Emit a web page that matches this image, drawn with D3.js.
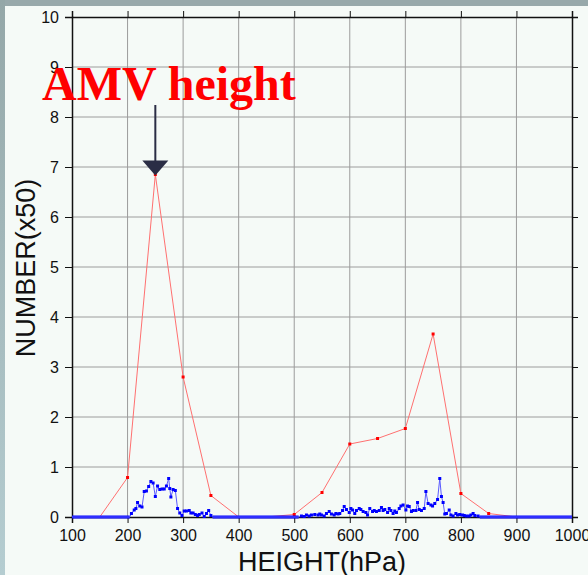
<!DOCTYPE html>
<html>
<head>
<meta charset="utf-8">
<script src="https://cdn.jsdelivr.net/npm/d3@7"></script>
<style>
  html, body { margin: 0; padding: 0; background: #f5faf7; }
  svg { display: block; }
</style>
</head>
<body>
<svg id="chart" width="588" height="575"></svg>
<script>
// red: coarse 50 hPa bins
const redHeights = [100, 150, 200, 250, 300, 350, 400, 450, 500, 550, 600, 650, 700, 750, 800, 850, 900, 950, 1000];
const redValues  = [0, 0, 0.79, 6.85, 2.8, 0.43, 0, 0, 0.05, 0.49, 1.46, 1.57, 1.77, 3.66, 0.47, 0.07, 0, 0, 0];

// blue: fine bins
const blueHeights = [100, 204, 207, 212, 215, 218, 222, 226, 230, 234, 238, 242, 246, 250, 254, 258, 262, 266, 270, 274, 276, 278, 282, 286, 290, 294, 298, 302, 306, 311, 314, 318, 322, 326, 329, 334, 338, 342, 346, 350, 353,
  508, 513, 518, 522, 527, 531, 537, 543, 546, 549, 554, 558, 563, 567, 572, 575, 579, 582, 587, 590, 594, 599, 602, 605, 609, 612, 617, 620, 624, 629, 632, 636, 641, 644, 648, 653, 657, 660, 663, 668, 671, 674, 678, 681, 684, 689, 692, 696, 701, 704, 707, 711, 714, 719, 722, 725, 729, 734, 737, 741, 746, 749, 753, 758, 762, 765, 768, 771, 774, 779, 782, 786, 791, 794, 798, 803, 806, 810, 815, 818, 822, 825, 831, 834, 1000];
const blueValues  = [0, 0, 0.07, 0.14, 0.17, 0.29, 0.22, 0.2, 0.51, 0.52, 0.61, 0.71, 0.68, 0.41, 0.62, 0.55, 0.56, 0.56, 0.62, 0.77, 0.57, 0.4, 0.55, 0.53, 0.17, 0.08, 0.03, 0.12, 0.12, 0.13, 0.08, 0.08, 0.05, 0.03, 0.05, 0.08, 0.01, 0.07, 0.13, 0.03, 0,
  0, 0.02, 0.01, 0.04, 0.02, 0.04, 0.05, 0.04, 0.06, 0.04, 0.02, 0.07, 0.11, 0.06, 0.04, 0.07, 0.06, 0.07, 0.13, 0.21, 0.15, 0.09, 0.17, 0.14, 0.07, 0.13, 0.17, 0.15, 0.11, 0.09, 0.04, 0.17, 0.11, 0.13, 0.11, 0.13, 0.19, 0.13, 0.15, 0.09, 0.17, 0.13, 0.07, 0.12, 0.09, 0.17, 0.22, 0.24, 0.14, 0.22, 0.21, 0.11, 0.13, 0.13, 0.29, 0.15, 0.13, 0.17, 0.51, 0.27, 0.24, 0.22, 0.27, 0.35, 0.77, 0.41, 0.29, 0.06, 0.07, 0.14, 0.04, 0.02, 0.07, 0.04, 0.05, 0.04, 0.03, 0.02, 0.02, 0.04, 0.07, 0.03, 0.02, 0, 0];

const xTicks = [100, 200, 300, 400, 500, 600, 700, 800, 900, 1000];
const yTicks = [0, 1, 2, 3, 4, 5, 6, 7, 8, 9, 10];

const svg = d3.select("#chart");
const plotL = 72, plotR = 572, plotT = 17, plotB = 517;

const x = d3.scaleLinear().domain([100, 1000]).range([plotL, plotR]);
const y = d3.scaleLinear().domain([0, 10]).range([plotB, plotT]);

// slide frame round the picture
svg.append("rect").attr("x", 0).attr("y", 0).attr("width", 588).attr("height", 6).attr("fill", "#98a9ab");
const grad = svg.append("defs").append("linearGradient")
    .attr("id", "edge").attr("x1", 0).attr("y1", 0).attr("x2", 0).attr("y2", 1);
grad.append("stop").attr("offset", "0%").attr("stop-color", "#94a7a8");
grad.append("stop").attr("offset", "100%").attr("stop-color", "#b5cdd1");
svg.append("rect").attr("x", 0).attr("y", 0).attr("width", 5).attr("height", 575).attr("fill", "url(#edge)");

// grid
const grid = svg.append("g").attr("stroke", "#9c9c9c").attr("stroke-width", 1);
grid.selectAll(".gx").data(xTicks.slice(1, -1)).join("line")
    .attr("x1", d => x(d)).attr("x2", d => x(d)).attr("y1", plotT).attr("y2", plotB);
grid.selectAll(".gy").data(yTicks.slice(1, -1)).join("line")
    .attr("y1", d => y(d)).attr("y2", d => y(d)).attr("x1", plotL).attr("x2", plotR);

// axes, ticks pointing outward on all four sides
const fmt = d3.format("d");
function styleAxis(g) {
  g.select(".domain").attr("stroke", "#111").attr("stroke-width", 1.5);
  g.selectAll(".tick line").attr("stroke", "#111").attr("stroke-width", 1);
  g.selectAll("text").attr("font-family", "Liberation Sans, Arial, sans-serif")
    .attr("font-size", 16).attr("fill", "#111");
}
svg.append("g").attr("transform", `translate(0,${plotB})`)
    .call(d3.axisBottom(x).tickValues(xTicks).tickFormat(fmt).tickSizeOuter(0).tickSize(6).tickPadding(7))
    .call(styleAxis);
svg.append("g").attr("transform", `translate(0,${plotT})`)
    .call(d3.axisTop(x).tickValues(xTicks).tickFormat("").tickSizeOuter(0).tickSize(6))
    .call(styleAxis);
svg.append("g").attr("transform", `translate(${plotL},0)`)
    .call(d3.axisLeft(y).tickValues(yTicks).tickFormat(fmt).tickSizeOuter(0).tickSize(7).tickPadding(6))
    .call(styleAxis);
svg.append("g").attr("transform", `translate(${plotR},0)`)
    .call(d3.axisRight(y).tickValues(yTicks).tickFormat("").tickSizeOuter(0).tickSize(6))
    .call(styleAxis);

// axis titles
svg.append("text")
    .attr("x", 322).attr("y", 571).attr("text-anchor", "middle")
    .attr("font-family", "Liberation Sans, Arial, sans-serif").attr("font-size", 27).attr("fill", "#111")
    .text("HEIGHT(hPa)");
svg.append("text")
    .attr("transform", "translate(35,268) rotate(-90)").attr("text-anchor", "middle")
    .attr("font-family", "Liberation Sans, Arial, sans-serif").attr("font-size", 27).attr("fill", "#111")
    .text("NUMBER(x50)");

// series
const red = redHeights.map((h, i) => [h, redValues[i]]);
const blue = blueHeights.map((h, i) => [h, blueValues[i]]);
const line = d3.line().x(d => x(d[0])).y(d => y(d[1]));

svg.append("path").datum(red).attr("d", line)
    .attr("fill", "none").attr("stroke", "#ff7070").attr("stroke-width", 1);
svg.append("g").selectAll("rect").data(red.filter(d => d[1] > 0)).join("rect")
    .attr("x", d => x(d[0]) - 1.5).attr("y", d => y(d[1]) - 1.5)
    .attr("width", 3).attr("height", 3).attr("fill", "#ff0000");

// zero stretches of the blue series look heavy because the markers pile up
const zeroRuns = d3.pairs(blue).filter(p => p[0][1] === 0 && p[1][1] === 0);
svg.append("g").selectAll("line").data(zeroRuns).join("line")
    .attr("x1", p => x(p[0][0])).attr("x2", p => x(p[1][0]))
    .attr("y1", p => y(0)).attr("y2", p => y(0))
    .attr("stroke", "#0000ff").attr("stroke-width", 3);
svg.append("path").datum(blue).attr("d", line)
    .attr("fill", "none").attr("stroke", "#5a5aff").attr("stroke-width", 1);
svg.append("g").selectAll("rect").data(blue.filter(d => d[1] > 0)).join("rect")
    .attr("x", d => x(d[0]) - 1.5).attr("y", d => y(d[1]) - 1.5)
    .attr("width", 3).attr("height", 3).attr("fill", "#0000ff");

// annotation
svg.append("text")
    .attr("x", 42).attr("y", 100)
    .attr("font-family", "Liberation Serif, Times New Roman, serif").attr("font-weight", "bold")
    .attr("font-size", 48).attr("fill", "#ff0000")
    .text("AMV height");
const ax = x(250), tipY = y(6.85) + 1;
svg.append("line").attr("x1", ax).attr("x2", ax).attr("y1", 105).attr("y2", tipY - 12)
    .attr("stroke", "#2a2d45").attr("stroke-width", 2);
svg.append("path")
    .attr("d", `M${ax - 13},${tipY - 15}L${ax + 13},${tipY - 15}L${ax},${tipY}Z`)
    .attr("fill", "#2a2d45");
</script>
</body>
</html>
